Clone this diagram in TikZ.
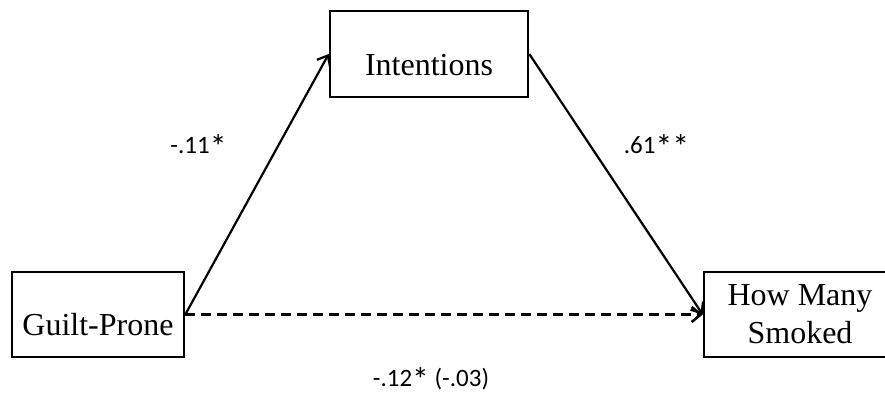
\documentclass[tikz,border=0pt]{standalone}
\usepackage{fontspec}
\setmainfont{Liberation Serif}
\newfontfamily\coeffont{Carlito}
\usetikzlibrary{arrows.meta,positioning}
\newcommand\sigstar{\smash{\raisebox{-0.22em}{\scalebox{1.35}{*}}}}

\begin{document}
\begin{tikzpicture}[x=1pt,y=-1pt,
    varbox/.style={draw,line width=2.6pt,inner sep=0pt,text depth=0pt,
      font=\fontsize{32}{38}\selectfont},
    path/.style={-{Straight Barb[length=9pt,width=15pt]},line width=2.2pt},
    coef/.style={anchor=base,inner sep=0.5pt,font=\coeffont\fontsize{25}{30}\selectfont}]
    \useasboundingbox (0,0) rectangle (885,397);
    \node[varbox,minimum width=198pt,minimum height=86pt,text height=42pt]
      (intent) at (429,54) {Intentions};
    \node[varbox,minimum width=172pt,minimum height=85pt,text height=41pt]
      (guilt) at (98,314.5) {Guilt-Prone};
    \node[varbox,minimum width=192pt,minimum height=85pt,align=center]
      (smoked) at (800,314.5) {How Many\\Smoked};
    \draw[path] (guilt.east) -- (intent.west);
    \draw[path] (intent.east) -- (smoked.west);
    \draw[path,line width=2.6pt,dash pattern=on 10pt off 6pt]
      (guilt.east) -- (smoked.west);
    \node[coef] (a) at (198.5,153) {-.11\sigstar};
    \node[coef] (b) at (656.5,153) {.61\sigstar\sigstar};
    \node[coef] (c) at (431,386) {-.12\sigstar{} (-.03)};
  \end{tikzpicture}
\end{document}
